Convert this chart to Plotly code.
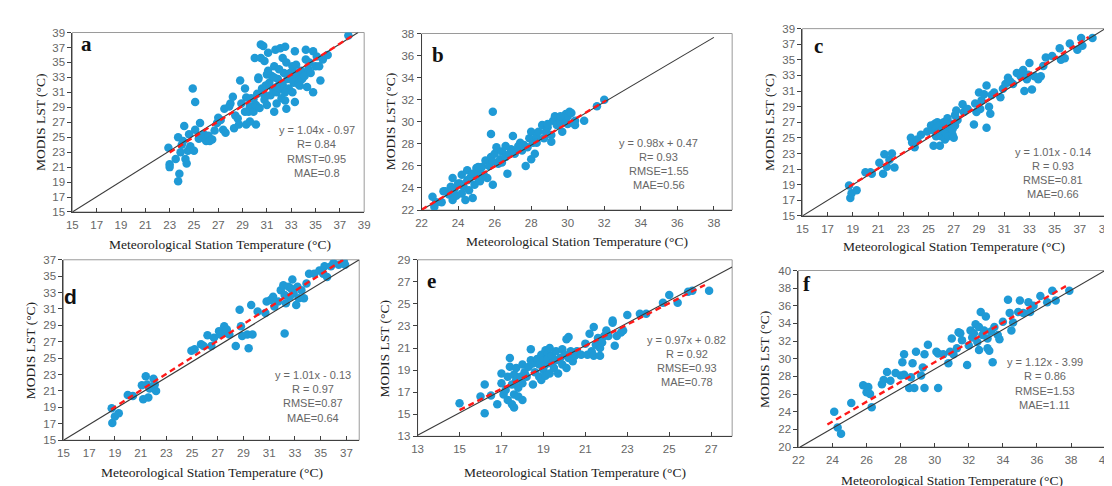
import plotly.graph_objects as go

W, H = 1112, 486

# ---------------- data ----------------
a_x = [22.9,23.0,23.0,23.5,23.7,23.7,23.8,23.9,24.0,24.1,24.2,24.3,24.4,24.5,24.6,24.7,24.9,25.0,25.1,25.1,
       25.4,25.5,25.8,26.0,26.2,26.3,26.5,26.7,26.9,27.0,27.2,27.4,27.5,27.6,27.9,28.0,28.2,28.3,28.4,28.6,
       28.7,28.8,28.9,29.2,29.3,29.3,29.5,29.6,29.7,29.9,30.0,30.1,30.1,30.2,30.3,30.3,30.5,30.5,30.6,30.7,
       30.8,30.8,30.9,31.0,31.0,31.1,31.2,31.3,31.4,31.5,31.6,31.6,31.7,31.8,31.8,31.9,32.0,32.0,32.1,32.2,
       32.3,32.3,32.4,32.5,32.5,32.6,32.6,32.7,32.8,32.9,33.1,33.1,33.2,33.3,33.3,33.4,33.5,33.6,33.7,33.8,
       33.9,34.1,34.2,34.2,34.3,34.4,34.5,34.6,34.8,34.8,35.0,35.1,35.3,35.4,35.6,36.0,37.7,31.1,31.6,32.2,
       32.5,31.8,30.8,30.4,29.6,29.2,29.9,33.3,33.7,33.0]
a_y = [23.6,21.4,21.0,22.1,25.0,19.1,20.1,23.0,24.0,24.5,26.5,22.1,21.5,23.2,25.4,23.8,31.5,23.2,29.7,26.0,
       24.8,26.9,25.4,24.5,25.2,24.5,24.7,25.9,26.9,27.6,27.3,26.0,28.8,25.6,29.1,29.5,30.4,26.2,27.9,27.5,
       26.7,32.6,29.5,31.5,30.3,26.7,28.4,29.1,30.2,28.4,35.6,26.7,29.3,30.8,32.8,33.0,37.4,35.6,31.5,37.2,
       30.0,35.2,31.9,33.4,29.3,36.3,32.3,30.6,33.2,31.5,34.5,28.4,36.7,29.5,31.0,32.8,34.1,31.5,36.9,30.2,
       32.0,35.6,33.6,37.1,29.9,35.0,28.8,32.8,31.5,33.6,34.5,31.0,32.3,36.5,29.7,34.7,33.0,32.1,33.4,33.9,
       32.8,33.2,36.7,35.4,31.7,34.1,35.0,33.6,36.5,31.0,34.5,35.8,34.5,32.6,35.4,36.0,38.6,33.9,33.0,32.2,
       31.0,31.7,30.6,28.9,27.1,28.4,30.1,33.6,31.9,32.8]

b_x = [22.6,22.7,22.8,23.1,23.2,23.3,23.5,23.6,23.7,23.7,23.8,23.9,24.1,24.2,24.2,24.3,24.4,24.5,24.5,24.6,
       24.7,24.8,24.8,24.9,25.0,25.1,25.1,25.2,25.3,25.4,25.5,25.6,25.7,25.8,25.8,25.9,25.9,26.0,26.1,26.2,
       26.3,26.4,26.4,26.6,26.7,26.8,26.9,27.0,27.1,27.3,27.4,27.5,27.6,27.7,27.8,27.9,28.0,28.0,28.1,28.2,
       28.3,28.4,28.6,28.7,28.8,28.9,29.1,29.1,29.2,29.3,29.4,29.5,29.6,29.7,29.8,29.9,30.0,30.0,30.1,30.2,
       30.4,30.4,30.9,31.6,32.0,25.1,25.9,26.6,27.3,28.3,29.6,28.9,24.0,24.6,25.3]
b_y = [23.2,22.3,22.7,22.7,23.7,23.7,23.4,24.1,24.9,22.9,23.9,23.3,24.4,23.5,25.2,24.1,22.9,24.7,25.6,23.8,
       25.0,25.3,23.1,24.3,25.8,24.9,25.3,24.6,25.9,25.2,26.5,24.9,26.0,26.8,28.9,24.3,30.9,27.1,27.7,26.2,
       26.6,27.3,26.3,26.8,25.3,27.1,27.5,28.7,27.1,27.8,28.1,27.4,27.9,26.0,27.7,28.5,29.1,26.6,28.1,27.1,
       28.6,29.1,29.7,28.5,29.1,29.5,28.8,28.2,30.1,30.5,29.7,30.4,30.0,29.1,30.2,30.7,29.8,30.5,30.9,30.8,
       30.1,29.7,30.1,31.4,32.0,25.9,26.4,27.8,27.7,28.1,30.5,29.8,24.4,24.8,25.0]

c_x = [18.7,18.8,18.9,19.3,20.0,20.4,20.5,21.1,21.4,21.5,21.7,21.9,22.1,22.3,23.6,23.7,23.9,24.1,24.4,24.9,
       25.2,25.3,25.4,25.5,25.6,25.6,25.7,25.8,25.9,25.9,26.0,26.1,26.2,26.3,26.4,26.4,26.5,26.6,26.7,26.8,
       26.9,26.9,27.0,27.1,27.1,27.2,27.3,27.7,27.8,28.1,28.6,28.7,28.8,29.0,29.1,29.2,29.4,29.6,29.6,29.8,
       29.9,30.0,30.2,30.7,30.9,31.1,31.3,31.5,31.7,32.0,32.3,32.5,32.6,32.8,32.9,33.0,33.2,33.4,33.7,33.9,
       34.1,34.3,34.8,35.4,35.5,35.8,36.2,36.8,37.1,37.2,38.0]
c_y = [18.9,17.3,17.9,18.3,20.6,20.6,20.4,21.8,20.4,22.9,21.3,22.2,23.0,21.2,25.0,24.4,23.8,24.8,25.4,25.8,
       26.6,26.0,24.0,26.8,25.2,26.2,27.0,25.8,24.0,26.6,25.2,26.0,27.0,24.8,26.4,25.7,27.5,25.2,26.3,26.8,
       25.4,26.1,25.0,26.6,27.9,28.5,27.3,29.3,28.3,28.7,26.7,29.4,28.3,30.8,28.7,29.8,30.6,26.3,31.7,29.0,
       28.1,30.5,30.8,30.2,31.3,31.9,32.7,32.2,31.9,33.3,32.9,33.7,31.0,32.5,33.1,34.6,31.2,32.9,32.5,32.9,
       34.2,35.3,35.5,36.5,35.0,35.2,37.1,36.3,37.8,36.8,37.8]

d_x = [18.75,18.8,19.0,19.3,20.0,20.4,21.1,21.2,21.5,21.6,21.7,22.0,22.1,21.4,22.2,24.95,25.2,25.7,25.9,26.2,
       26.5,26.7,27.1,27.2,27.5,27.6,27.7,27.9,28.4,28.7,28.8,28.9,29.3,29.4,29.6,29.7,30.1,30.7,30.8,31.1,
       31.3,31.4,31.7,31.9,32.2,32.1,32.2,32.3,32.5,32.6,32.7,32.8,32.9,33.1,33.2,33.3,33.5,33.7,33.9,34.1,
       34.5,34.9,35.2,35.3,35.5,35.8,36.0,36.4,36.8,36.9]
d_y = [18.9,17.1,17.9,18.3,20.5,20.4,21.7,20.0,21.8,20.2,21.3,22.5,21.8,22.8,21.0,25.9,26.1,26.7,26.5,27.8,
       26.5,27.5,28.3,27.9,28.9,28.1,28.5,27.9,26.5,30.9,28.9,27.7,27.9,26.2,31.5,27.9,30.7,30.5,31.9,32.1,
       32.5,31.3,31.9,33.3,28.0,33.9,32.7,31.7,33.7,32.5,33.5,34.6,32.9,31.5,33.7,32.3,33.3,32.3,34.1,35.3,
       35.3,35.7,35.3,36.2,34.9,36.2,36.6,36.4,36.8,36.4]

e_x = [15.0,16.0,16.2,16.2,16.5,16.8,17.0,17.0,17.1,17.2,17.3,17.3,17.4,17.4,17.5,17.5,17.6,17.6,17.6,17.7,
       17.7,17.8,17.8,17.9,18.0,18.0,18.0,18.1,18.2,18.3,18.4,18.4,18.5,18.5,18.6,18.7,18.8,18.8,18.9,18.9,
       19.0,19.0,19.1,19.1,19.1,19.2,19.2,19.3,19.3,19.4,19.4,19.5,19.6,19.6,19.7,19.8,19.9,19.9,20.0,20.1,
       20.1,20.2,20.2,20.3,20.4,20.5,20.6,20.8,21.0,21.1,21.2,21.3,21.4,21.4,21.5,21.6,21.7,21.7,21.8,21.9,
       22.0,22.1,22.3,22.3,22.4,22.5,22.7,22.8,23.0,23.6,23.9,24.7,25.0,25.4,25.9,26.1,26.9]
e_y = [16.0,16.6,17.7,15.1,16.7,15.9,18.7,17.8,16.8,17.2,18.4,16.3,20.1,19.3,17.7,15.9,18.6,16.8,15.6,18.1,
       19.2,17.4,16.6,18.4,16.3,19.5,17.8,18.8,18.4,19.3,19.9,20.9,17.7,19.6,18.8,20.0,18.4,19.5,20.4,18.1,
       19.0,19.9,20.8,18.5,19.5,20.5,20.0,18.7,21.0,19.6,20.3,19.2,19.9,20.7,18.7,20.1,20.9,19.5,20.4,21.8,
       19.2,22.0,20.1,20.7,19.8,20.3,20.7,20.4,21.4,20.4,22.3,20.7,22.9,20.3,21.3,21.9,20.3,21.0,21.5,22.1,
       22.6,22.1,23.3,23.5,21.2,22.1,22.4,22.6,24.0,24.1,24.1,25.1,25.8,25.1,26.1,26.2,26.2]

f_x = [24.1,24.3,24.5,25.1,25.8,26.0,26.1,26.2,26.3,26.9,27.0,27.2,27.4,27.7,28.0,28.1,28.2,28.2,28.5,28.6,
       28.7,28.8,28.9,29.2,29.3,29.4,29.4,29.6,30.1,30.2,30.2,30.5,30.8,30.9,31.0,31.1,31.3,31.4,31.5,31.6,
       31.9,32.0,32.1,32.2,32.3,32.4,32.5,32.6,32.6,32.7,32.8,32.9,33.0,33.1,33.1,33.2,33.3,33.4,33.5,33.7,
       33.8,34.0,34.3,34.4,34.5,34.6,34.9,35.0,35.2,35.5,35.6,35.8,36.2,36.6,36.9,37.1,37.9]
f_y = [24.0,22.2,21.5,25.0,27.0,26.2,26.8,26.0,24.5,27.1,27.6,28.5,27.5,28.4,28.1,29.6,28.2,30.5,26.7,27.9,
       29.5,26.7,30.8,28.1,29.0,30.5,26.7,31.6,30.8,26.7,30.6,30.5,29.5,30.8,32.3,30.5,31.2,33.0,32.9,32.1,
       29.3,31.5,33.2,32.4,32.9,33.9,31.9,33.6,31.0,35.3,32.7,33.2,34.8,32.3,31.2,30.9,33.1,29.6,33.6,32.7,
       32.2,34.2,36.7,35.2,33.2,34.1,35.3,36.6,35.2,36.4,35.3,36.0,37.1,36.4,37.7,36.6,37.7]

panel_letters = ["a", "b", "c", "d", "e", "f"]
stats = [
    ["y = 1.04x - 0.97", "R= 0.84", "RMST=0.95", "MAE=0.8"],
    ["y = 0.98x + 0.47", "R= 0.93", "RMSE=1.55", "MAE=0.56"],
    ["y = 1.01x - 0.14", "R = 0.93", "RMSE=0.81", "MAE=0.66"],
    ["y = 1.01x - 0.13", "R = 0.97", "RMSE=0.87", "MAE=0.64"],
    ["y = 0.97x + 0.82", "R = 0.92", "RMSE=0.93", "MAE=0.78"],
    ["y = 1.12x - 3.99", "R = 0.86", "RMSE=1.53", "MAE=1.11"],
]
slopes = [1.04, 0.98, 1.01, 1.01, 0.97, 1.12]
intercepts = [-0.97, 0.47, -0.14, -0.13, 0.82, -3.99]
fit_x_ranges = [[23.0, 38.0], [22.0, 32.1], [18.7, 37.7], [18.7, 36.9], [15.0, 26.7], [23.7, 37.7]]
ref_line_x = [[15, 38.5], [22, 38], [15, 39], [15, 38], [13, 28], [22.1, 40]]
ref_line_y = [[15, 39], [22, 37.65], [15, 39], [15, 37], [13.1, 28.35], [20, 40]]
x_ranges = [[15, 39], [22, 39], [15, 39], [15, 38], [13, 28], [22, 40]]
y_ranges = [[15, 39], [22, 38], [15, 39], [15, 37], [13, 29], [20, 40]]
x_ticks = [list(range(15, 40, 2)), list(range(22, 39, 2)), list(range(15, 40, 2)),
           list(range(15, 38, 2)), list(range(13, 28, 2)), list(range(22, 41, 2))]
y_ticks = [list(range(15, 40, 2)), list(range(22, 39, 2)), list(range(15, 40, 2)),
           list(range(15, 38, 2)), list(range(13, 30, 2)), list(range(20, 41, 2))]
xs = [a_x, b_x, c_x, d_x, e_x, f_x]
ys = [a_y, b_y, c_y, d_y, e_y, f_y]

x_title = "Meteorological Station Temperature (°C)"
y_title = "MODIS LST (°C)"

# ---------------- layout geometry (pixels) ----------------
boxes = [  # left, right, top, bottom
    (59, 354, 19, 203), (412, 726, 20, 201), (797, 1103, 15, 207),
    (50, 349, 252, 437), (408, 726, 252, 433), (793, 1103, 263, 444)]
letter_pos = [(73, 31), (429, 42), (813, 33), (57, 290), (422, 274), (802, 277)]
letter_fonts = ["Liberation Serif", "Liberation Serif", "Liberation Serif", "Liberation Sans", "Liberation Serif", "Liberation Serif"]
stat_pos = [(306, 119), (652, 132), (1050, 141), (302, 370), (680, 334), (1042, 357)]
xtitle_pos = [(208, 236), (569, 233), (950, 238), (200, 470), (567, 470), (948, 478)]
ytitle_pos = [(27, 111), (380, 110), (763, 111), (17, 345), (375, 343), (758, 354)]

BLUE = "#1F9AD6"
TICK_FONT = dict(family="Liberation Sans", size=11.5, color="#666666")

fig = go.Figure()
annotations = []
shapes = []

def px(x):
    return x / W

def py(y):
    return 1 - y / H

for i in range(6):
    n = "" if i == 0 else str(i + 1)
    xa, ya = "x" + n, "y" + n
    l, r, t, b = boxes[i]
    fig.add_trace(go.Scatter(x=xs[i], y=ys[i], mode="markers", xaxis=xa, yaxis=ya,
                             marker=dict(size=8.5, color=BLUE, line=dict(width=0)),
                             showlegend=False, cliponaxis=True))
    fig.add_trace(go.Scatter(x=ref_line_x[i], y=ref_line_y[i], mode="lines", xaxis=xa, yaxis=ya,
                             line=dict(color="#3a3a3a", width=1.1), showlegend=False))
    fx = fit_x_ranges[i]
    fy = [slopes[i] * v + intercepts[i] for v in fx]
    fig.add_trace(go.Scatter(x=fx, y=fy, mode="lines", xaxis=xa, yaxis=ya,
                             line=dict(color="#FF1A1A", width=2.4, dash="6px,4px"), showlegend=False))
    xkey = "xaxis" + n
    ykey = "yaxis" + n
    fig.layout[xkey] = dict(domain=[px(l), px(r)], range=x_ranges[i], anchor=ya,
                            tickmode="array", tickvals=x_ticks[i], ticktext=[str(v) for v in x_ticks[i]],
                            showgrid=False, zeroline=False, showline=True, linecolor="#404040", linewidth=1,
                            ticks="inside", ticklen=4, tickcolor="#404040", tickfont=TICK_FONT,
                            ticklabelstandoff=2, fixedrange=True)
    fig.layout[ykey] = dict(domain=[py(b), py(t)], range=y_ranges[i], anchor=xa,
                            tickmode="array", tickvals=y_ticks[i], ticktext=[str(v) for v in y_ticks[i]],
                            showgrid=False, zeroline=False, showline=True, linecolor="#404040", linewidth=1,
                            ticks="outside", ticklen=4, tickcolor="#404040", tickfont=TICK_FONT,
                            fixedrange=True)
    shapes.append(dict(type="rect", xref="paper", yref="paper", x0=px(l), x1=px(r), y0=py(b), y1=py(t),
                       line=dict(color="#9a9a9a", width=1), layer="below"))
    lx, ly = letter_pos[i]
    annotations.append(dict(text="<b>%s</b>" % panel_letters[i], x=px(lx), y=py(ly), xref="paper", yref="paper",
                            showarrow=False, xanchor="center", yanchor="middle",
                            font=dict(family=letter_fonts[i], size=21, color="#111")))
    sx, sy = stat_pos[i]
    for k, line in enumerate(stats[i]):
        annotations.append(dict(text=line, x=px(sx), y=py(sy + k * 14.6), xref="paper", yref="paper",
                                showarrow=False, xanchor="center", yanchor="middle",
                                font=dict(family="Liberation Sans", size=11, color="#666666")))
    tx, ty = xtitle_pos[i]
    annotations.append(dict(text=x_title, x=px(tx), y=py(ty), xref="paper", yref="paper",
                            showarrow=False, xanchor="center", yanchor="middle",
                            font=dict(family="Liberation Serif", size=13.5, color="#222")))
    yx, yy = ytitle_pos[i]
    annotations.append(dict(text=y_title, x=px(yx), y=py(yy), xref="paper", yref="paper",
                            showarrow=False, xanchor="center", yanchor="middle", textangle=-90,
                            font=dict(family="Liberation Serif", size=13.5, color="#222")))

fig.update_layout(width=W, height=H, margin=dict(l=0, r=0, t=0, b=0),
                  paper_bgcolor="white", plot_bgcolor="white",
                  annotations=annotations, shapes=shapes, showlegend=False)

fig.write_html("out.html")
